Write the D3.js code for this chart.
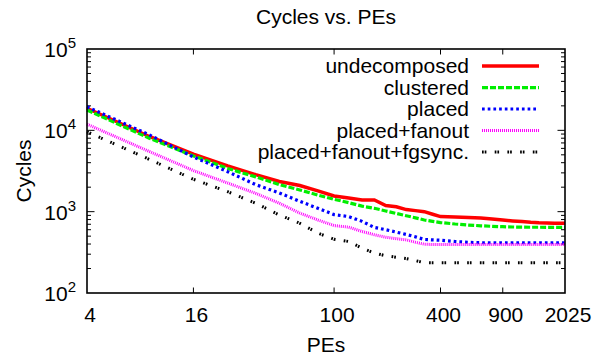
<!DOCTYPE html>
<html><head><meta charset="utf-8">
<script src="https://cdn.jsdelivr.net/npm/d3@7"></script>
<style>body{margin:0;background:#fff}svg{display:block;font-family:"Liberation Sans",Arial,sans-serif}</style>
</head><body><svg id="c" width="607" height="358"></svg>
<script>
const pes = [4, 9, 16, 25, 36, 49, 64, 81, 100, 121, 144, 169, 196, 225, 256, 289, 324, 361, 400, 484, 576, 676, 784, 900, 1024, 1156, 1296, 1444, 1600, 1764, 1936, 2025];
const undecomposed = [18700, 8400, 5100, 3650, 2850, 2350, 2100, 1800, 1560, 1470, 1390, 1390, 1190, 1150, 1060, 1030, 1000, 930, 870, 860, 850, 835, 810, 790, 770, 755, 740, 730, 725, 722, 720, 720];
const clustered = [17800, 8000, 4850, 3400, 2680, 2150, 1850, 1600, 1420, 1290, 1170, 1100, 1020, 950, 890, 840, 790, 760, 735, 705, 685, 670, 660, 653, 648, 645, 643, 643, 642, 642, 641, 641];
const placed = [19500, 8800, 4700, 3100, 2150, 1700, 1340, 1100, 920, 870, 760, 640, 600, 560, 525, 490, 455, 450, 445, 430, 420, 415, 415, 415, 415, 415, 415, 415, 415, 415, 415, 415];
const placedFanout = [11900, 5500, 3200, 2250, 1680, 1270, 960, 790, 675, 645, 570, 520, 485, 465, 450, 420, 398, 395, 395, 395, 395, 395, 395, 395, 395, 395, 395, 395, 395, 395, 395, 395];
const placedFanoutFgsync = [9600, 4400, 2500, 1760, 1270, 910, 720, 545, 458, 430, 355, 310, 287, 275, 265, 250, 236, 235, 235, 235, 235, 235, 235, 235, 235, 235, 235, 235, 235, 235, 235, 235];
const seriesNames = ["undecomposed", "clustered", "placed", "placed+fanout", "placed+fanout+fgsync."];
const xTicks = [4, 16, 100, 400, 900, 2025];
const yTickExps = [2, 3, 4, 5];
const title = "Cycles vs. PEs";
const xLabel = "PEs";
const yLabel = "Cycles";

const series = [undecomposed, clustered, placed, placedFanout, placedFanoutFgsync];
const styles = [
  {color: "#ff0000", w: 3.5, dash: null},
  {color: "#00ee00", w: 3.2, dash: "6,2"},
  {color: "#0000ff", w: 3.2, dash: "2.7,3"},
  {color: "#ff00ff", w: 3, dash: "1,1"},
  {color: "#000000", w: 3, dash: "1.7,1,1.7,8.3"}
];

const L = 87, R = 565, T = 49, B = 293;
const FS = 21;
const svg = d3.select("#c");
const x = d3.scaleLog().domain([4, 2025]).range([L, R]);
const y = d3.scaleLog().domain([100, 100000]).range([B, T]);

// ticks
const g = svg.append("g").attr("stroke", "#000").attr("stroke-width", 1);
xTicks.slice(1, -1).forEach(v => {
  g.append("line").attr("x1", x(v)).attr("x2", x(v)).attr("y1", B).attr("y2", B - 5.5);
  g.append("line").attr("x1", x(v)).attr("x2", x(v)).attr("y1", T).attr("y2", T + 5.5);
});
for (let e = 2; e < 5; e++) {
  for (let m = 1; m <= 9; m++) {
    const v = m * Math.pow(10, e);
    const len = m === 1 ? 7.5 : 4;
    if (m === 1 && e === 2) continue;
    g.append("line").attr("x1", L).attr("x2", L + len).attr("y1", y(v)).attr("y2", y(v));
    g.append("line").attr("x1", R).attr("x2", R - len).attr("y1", y(v)).attr("y2", y(v));
  }
}

// lines
const line = d3.line().x((d, i) => x(pes[i])).y(d => y(d));
series.forEach((s, i) => {
  const st = styles[i];
  svg.append("path").attr("d", line(s)).attr("fill", "none")
    .attr("stroke", st.color).attr("stroke-width", st.w)
    .attr("stroke-dasharray", st.dash);
});

// frame
svg.append("rect").attr("x", L).attr("y", T).attr("width", R - L).attr("height", B - T)
  .attr("fill", "none").attr("stroke", "#000").attr("stroke-width", 1.6);

// tick labels
xTicks.forEach(v => {
  svg.append("text").attr("x", x(v) + 3).attr("y", 322).attr("text-anchor", "middle")
    .attr("font-size", FS).text(v);
});
yTickExps.forEach(e => {
  const t = svg.append("text").attr("x", 76).attr("y", y(Math.pow(10, e)) + 8)
    .attr("text-anchor", "end").attr("font-size", FS);
  t.append("tspan").text("10");
  t.append("tspan").attr("dy", -9).attr("font-size", 15).text(e);
});

svg.append("text").attr("x", (L + R) / 2).attr("y", 24).attr("text-anchor", "middle")
  .attr("font-size", FS).text(title);
svg.append("text").attr("x", (L + R) / 2).attr("y", 352).attr("text-anchor", "middle")
  .attr("font-size", FS).text(xLabel);
svg.append("text").attr("transform", `translate(31,${(T + B) / 2}) rotate(-90)`)
  .attr("text-anchor", "middle").attr("font-size", FS).text(yLabel);

// legend
const ly = [66, 87.7, 109, 130.5, 152];
seriesNames.forEach((n, i) => {
  const st = styles[i];
  svg.append("text").attr("x", 469).attr("y", ly[i] + 7).attr("text-anchor", "end")
    .attr("font-size", FS).text(n);
  svg.append("line").attr("x1", 482).attr("x2", 539).attr("y1", ly[i]).attr("y2", ly[i])
    .attr("stroke", st.color).attr("stroke-width", st.w).attr("stroke-dasharray", st.dash);
});
</script></body></html>
